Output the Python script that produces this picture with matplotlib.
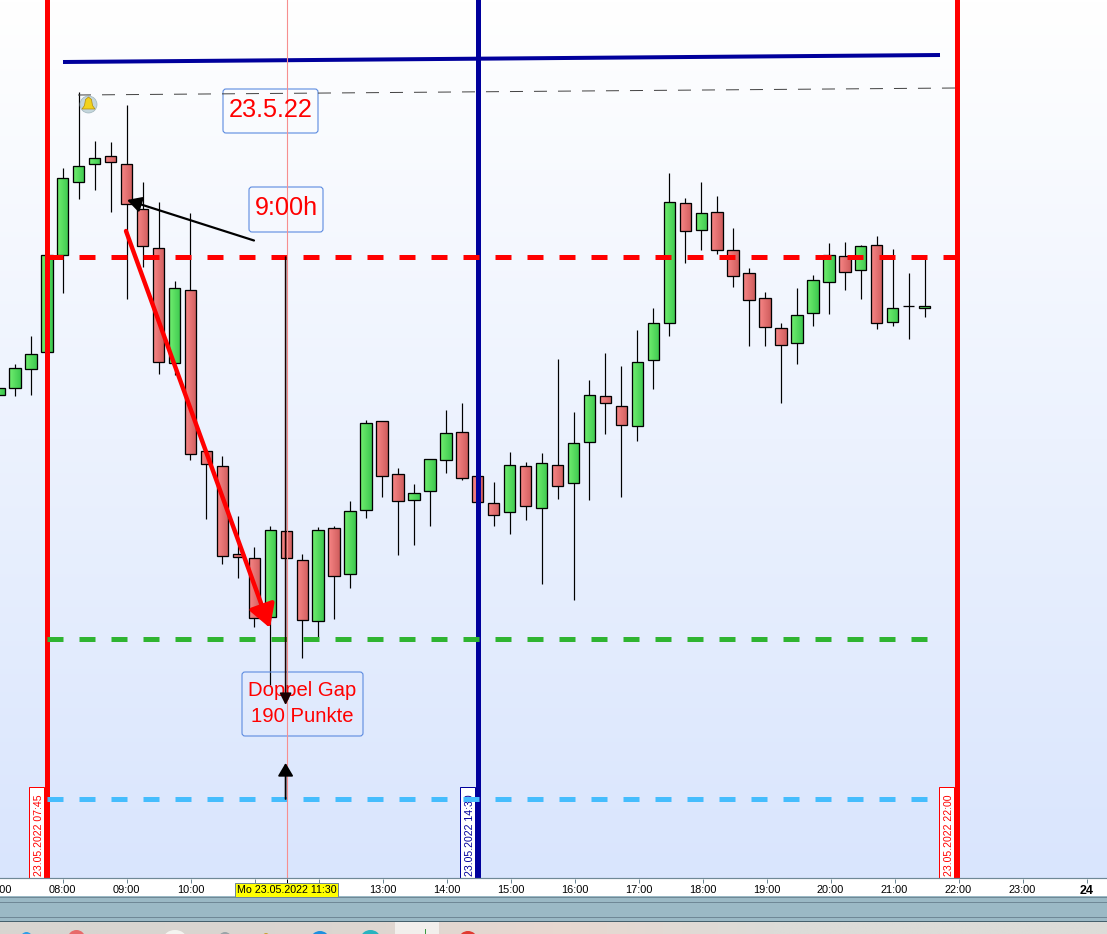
#!/usr/bin/env python3
"""
Intraday candle chart 23.05.2022 with gap markup
"""

import matplotlib
matplotlib.use('Agg')
import matplotlib.pyplot as plt
from matplotlib.colors import to_rgb
from matplotlib.patches import FancyBboxPatch, Rectangle, Ellipse, Polygon
import numpy as np

W, H = 1107, 934
AXIS_Y = 878

plt.rcParams['font.family'] = ['Liberation Sans', 'DejaVu Sans']
plt.rcParams['lines.scale_dashes'] = False

# no price axis on the screenshot, so prices are read as screen rows (small = high)
bar_hours = np.arange(7, 21.75, 0.25)
opens = [395, 388, 369, 352, 255, 182, 164, 156, 164, 209, 248, 363, 290, 451, 466,
         554, 558, 617, 531, 560, 621, 528, 574, 510, 421, 474, 500, 491, 460, 432,
         476, 503, 512, 466, 508, 465, 483, 442, 396, 406, 426, 360, 323, 203, 230,
         212, 250, 273, 298, 328, 343, 313, 282, 256, 270, 245, 322, 306, 308]
closes = [388, 368, 354, 255, 178, 166, 158, 162, 204, 246, 362, 288, 454, 464, 556,
          557, 618, 530, 558, 620, 530, 576, 511, 423, 476, 501, 493, 459, 433, 478,
          502, 515, 465, 506, 463, 486, 443, 395, 403, 425, 362, 323, 202, 231, 213,
          250, 276, 300, 327, 345, 315, 280, 255, 272, 246, 323, 308, 306, 306]
highs = [388, 364, 336, 255, 168, 92, 141, 142, 105, 182, 202, 281, 213, 451, 456,
         516, 547, 526, 531, 554, 527, 526, 501, 420, 421, 468, 484, 459, 410, 403,
         476, 482, 452, 462, 453, 359, 412, 380, 353, 366, 330, 308, 173, 198, 182,
         196, 228, 268, 292, 323, 288, 275, 243, 242, 245, 236, 249, 273, 258]
lows = [395, 396, 395, 352, 293, 199, 190, 212, 299, 267, 374, 375, 460, 519, 564,
        578, 627, 685, 558, 658, 637, 619, 588, 518, 497, 555, 545, 526, 473, 480,
        502, 526, 534, 520, 584, 499, 600, 500, 434, 497, 441, 389, 336, 263, 250,
        254, 287, 346, 346, 403, 364, 326, 314, 290, 299, 329, 326, 339, 317]

event_hours = [7.75, 14.5, 22.0]
event_labels = ['23.05.2022 07:45', '23.05.2022 14:30', '23.05.2022 22:00']
event_colors = ['#ff0000', '#00009c', '#ff0000']

level_rows = [257, 639, 799]
level_ends = [22.0, 21.6, 21.6]
level_colors = ['#ff0000', '#2fb431', '#45bdfd']

tick_hours = list(range(7, 25))
tick_labels = ['07:00', '08:00', '09:00', '10:00', '', '', '13:00', '14:00', '15:00',
               '16:00', '17:00', '18:00', '19:00', '20:00', '21:00', '22:00', '23:00', '24']
cursor_hour = 11.5
cursor_label = 'Mo 23.05.2022 11:30'


def px(v):
    return v * 72 / 100


def gradient_body(ax, hour, top, bottom, left_col, right_col, width):
    if bottom - top > 0:
        grad = np.linspace(to_rgb(left_col), to_rgb(right_col), 16).reshape(1, 16, 3)
        ax.imshow(grad, extent=(hour - width / 2, hour + width / 2, bottom, top),
                  aspect='auto', zorder=3, interpolation='bilinear')
    ax.add_patch(Rectangle((hour - width / 2, top), width, bottom - top, fill=False,
                           edgecolor='black', linewidth=px(1.3), zorder=3.1))


def note_box(ax, x0, y0, x1, y1, lines, size):
    ax.add_patch(FancyBboxPatch((x0 + 2, y0 + 2), x1 - x0 - 4, y1 - y0 - 4,
                                boxstyle='round,pad=2,rounding_size=3', facecolor='none',
                                edgecolor='#5b8ae0', linewidth=px(1.1)))
    for cy, line in lines:
        ax.text((x0 + x1) / 2, cy, line, color='#ff0000', fontsize=size,
                ha='center', va='center')


def arrow(ax, start, end, color, lw, head_len, head_w):
    ax.annotate('', xy=end, xytext=start,
                arrowprops=dict(arrowstyle='-|>,head_length=%.2f,head_width=%.2f' % (px(head_len), px(head_w)),
                                mutation_scale=1, lw=px(lw), color=color,
                                shrinkA=0, shrinkB=0))


def create_chart():
    fig = plt.figure(figsize=(W / 100, H / 100), dpi=100, facecolor='white')

    # main price panel
    ax = fig.add_axes([0, (H - AXIS_Y) / H, 1, AXIS_Y / H], zorder=1)
    ax.set_xlim(8 - 62.8 / 63.84, 8 + (W - 62.8) / 63.84)
    ax.set_ylim(AXIS_Y, 0)
    ax.axis('off')

    bg = np.linspace(to_rgb('#ffffff'), to_rgb('#d9e5fd'), 256).reshape(256, 1, 3)
    ax.imshow(bg, extent=(ax.get_xlim()[0], ax.get_xlim()[1], AXIS_Y, 0),
              aspect='auto', zorder=0, interpolation='bilinear')

    body_w = 11.4 / 63.84
    for hour, o, c, hi, lo in zip(bar_hours, opens, closes, highs, lows):
        ax.vlines(hour, hi, lo, color='black', linewidth=px(1.2), zorder=2)
        if c < o:
            gradient_body(ax, hour, c, o, '#70ee70', '#3ec94f', body_w)
        elif c > o:
            gradient_body(ax, hour, o, c, '#f88686', '#d05e5e', body_w)
        else:
            gradient_body(ax, hour, c, o, '#000000', '#000000', body_w)

    # session markers with their date flags
    flag_w = 15 / 63.84
    for hour, label, color in zip(event_hours, event_labels, event_colors):
        ax.axvline(hour, color=color, linewidth=px(5), zorder=4)
        ax.add_patch(Rectangle((hour - 2.5 / 63.84 - flag_w, 787), flag_w, AXIS_Y - 787 + 2,
                               facecolor='white', edgecolor=color, linewidth=px(1), zorder=4.4,
                               clip_on=False))
        ax.annotate(label, xy=(hour, AXIS_Y), xytext=(-7.6, 2), textcoords='offset pixels',
                    rotation=90, ha='center', va='bottom', fontsize=7.6, color=color, zorder=4.5,
                    annotation_clip=False)

    for row, end, color in zip(level_rows, level_ends, level_colors):
        ax.plot([event_hours[0], end], [row, row], color=color, linewidth=px(5),
                dashes=(px(16), px(16)), dash_capstyle='butt', zorder=5)

    # everything drawn by hand on the screenshot, in screen pixels
    ov = fig.add_axes([0, 0, 1, 1], zorder=2)
    ov.set_xlim(0, W)
    ov.set_ylim(H, 0)
    ov.axis('off')

    ov.plot([63, 940], [62, 55], color='#00009c', linewidth=px(4), solid_capstyle='butt')
    ov.plot([78, 956], [95, 88], color='#444444', linewidth=px(1),
            dashes=(px(13), px(11)), dash_capstyle='butt')

    # bell
    ov.add_patch(Ellipse((88.5, 104.5), 17, 17, facecolor='#c4d6dc', edgecolor='#9fb4bb', linewidth=0.5))
    ov.add_patch(Polygon([(88.5, 97), (91.5, 99.5), (92.5, 105.5), (95, 109), (82, 109), (84.5, 105.5), (85.5, 99.5)],
                         closed=True, facecolor='#f2d21c', edgecolor='#b08a10', linewidth=0.5))

    note_box(ov, 223, 89, 318, 133, [(110, '23.5.22')], 18.2)
    note_box(ov, 249, 187, 323, 232, [(208, '9:00h')], 18.2)
    note_box(ov, 242, 672, 363, 736, [(691, 'Doppel Gap'), (716, '190 Punkte')], 14.6)

    arrow(ov, (254, 240.5), (127, 200), 'black', 2.2, 12, 6.5)
    arrow(ov, (126, 231), (270, 628), '#ff0000', 4.4, 19, 11)
    arrow(ov, (285.6, 257), (285.6, 705), '#1a0000', 1.6, 10, 5)
    arrow(ov, (285.6, 799), (285.6, 763), 'black', 1.8, 11, 6.5)

    # crosshair on top of the chart
    ov.plot([286.5, 286.5], [0, AXIS_Y], color='#f78f8f', linewidth=px(1.1))

    # time strip, scrollbar, taskbar
    ov.add_patch(Rectangle((0, AXIS_Y), W, 18, facecolor='white', edgecolor='none'))
    ov.add_patch(Rectangle((0, 896), W, 25, facecolor='#9bb9c5', edgecolor='none'))
    for y, col in [(896.5, '#6f8896'), (901.5, '#6f8896'), (916.5, '#6f8896'), (921, '#45606c')]:
        ov.plot([0, W], [y, y], color=col, linewidth=px(1))
    task = np.array([[to_rgb(c) for c in ['#d8d5d0', '#dcd6d0', '#e8d8d0', '#dcdcd8', '#dcdcd8']]])
    ov.imshow(task, extent=(0, W, H, 921.5), aspect='auto', interpolation='bilinear')
    ov.add_patch(Rectangle((395, 921.5), 44, 13, facecolor='#f2efec', edgecolor='none'))
    ov.plot([424.5, 424.5], [929, 934], color='#3c9a40', linewidth=px(1))
    for x0, x1, top, col in [(20, 33, 932, '#2f9fe8'), (68, 85, 930, '#e86a6a'), (164, 186, 930, '#f4f4f0'),
                             (218, 232, 932, '#9aa4a8'), (261, 271, 933, '#c9a030'), (311, 329, 931, '#1e90e0'),
                             (361, 380, 930, '#28b4c0'), (459, 477, 931, '#e03a30')]:
        ov.add_patch(Ellipse(((x0 + x1) / 2, top + 8), x1 - x0, 16, facecolor=col, edgecolor='none'))
    ov.set_xlim(0, W)
    ov.set_ylim(H, 0)

    # time axis has its own scale, ticks sit a hair off the candles on the screenshot
    ax_t = fig.add_axes([-4 / W, (H - AXIS_Y - 1) / H, (W + 8) / W, 1 / H], zorder=3)
    ax_t.patch.set_visible(False)
    ax_t.set_xlim(8 - 66.5 / 64, 8 + (W + 4 - 62.5) / 64)
    ax_t.set_ylim(0, 1)
    for name in ['left', 'right', 'bottom']:
        ax_t.spines[name].set_visible(False)
    ax_t.spines['top'].set_color('#6f8896')
    ax_t.spines['top'].set_linewidth(px(1.2))
    ax_t.set_yticks([])
    ax_t.set_xticks(tick_hours)
    ax_t.set_xticklabels(tick_labels, fontsize=7.9, color='black')
    ax_t.get_xticklabels()[-1].set_fontweight('bold')
    ax_t.get_xticklabels()[-1].set_fontsize(9)
    ax_t.tick_params(axis='x', length=3.2, width=px(1), color='#6f8896', pad=1.2)
    ax_t.set_xticks([cursor_hour], minor=True)
    ax_t.tick_params(axis='x', which='minor', length=3.2, width=px(1), color='black')
    ax_t.annotate(cursor_label, xy=(cursor_hour, 0), xytext=(0, -11), textcoords='offset pixels',
                  ha='center', va='center', fontsize=7.7, color='black', annotation_clip=False,
                  bbox=dict(boxstyle='square,pad=0.2', facecolor='#ffff00', edgecolor='#6f8896',
                            linewidth=px(1)))

    fig.savefig('out.png', dpi=100, facecolor='white')
    plt.close(fig)


if __name__ == "__main__":
    create_chart()
